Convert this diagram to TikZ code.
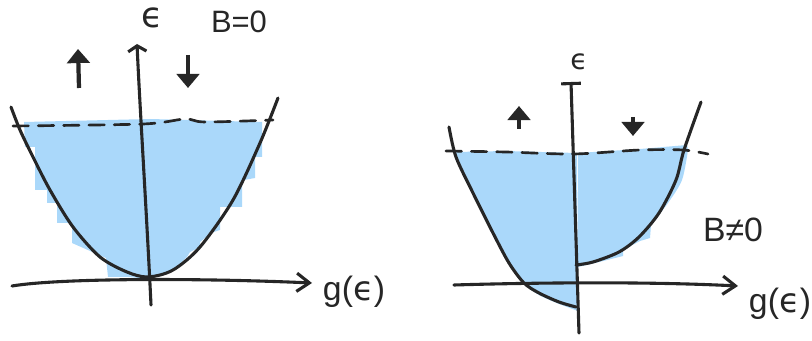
\documentclass[tikz,border=0pt]{standalone}
\usepackage{fontspec}
\setmainfont{Liberation Sans}
\newfontfamily\greekfont{DejaVu Sans}
\usetikzlibrary{arrows.meta}
\definecolor{seablue}{RGB}{170,216,250}
\definecolor{inkgray}{RGB}{38,38,38}
\newcommand{\eps}{{\greekfont ϵ}}

\begin{document}
\begin{tikzpicture}[x=0.025cm, y=-0.025cm,
  ink/.style={draw=inkgray, line width=2.2pt, line cap=round, line join=round},
  fermisea/.style={fill=seablue},
  fermilevel/.style={ink, line width=1.9pt, dash pattern=on 11pt off 7pt},
  axisarrow/.style={ink, -{Straight Barb[length=9pt, width=13pt]}},
  spinarrow/.style={draw=inkgray, line width=3pt, -{Triangle[length=10pt, width=16pt]}},
  lbl/.style={text=inkgray, font=\fontsize{22}{24}\selectfont, inner sep=1pt},
]
\useasboundingbox (0,0) rectangle (812,341);

% ---------- B = 0 ----------
% filled sea
\fill[fermisea] (24,122) -- (150,119) -- (262,122) -- (262,157) -- (255,157) -- (255,178)
  -- (244,180) -- (242,185) -- (242,207) -- (220,207) -- (220,230) -- (211,233)
  -- (200,242) -- (200,247) -- (190,252) -- (187,257) -- (172,271) -- (150,279)
  -- (128,277) -- (108,277) -- (106,258) -- (72,243) -- (72,223) -- (57,223)
  -- (57,203) -- (47,203) -- (47,190) -- (35,190) -- (35,147) -- (25,147) -- cycle;

% band
\draw[ink] plot[smooth] coordinates {(11,107) (20,130) (33,157) (50,190) (73,227)
  (100,257) (127,272) (148,277) (173,270) (200,247) (233,200) (260,143) (278,98)};
\draw[fermilevel] plot[smooth] coordinates {(13,126) (143,124) (185,119) (205,122) (273,120)};

% axes
\coordinate (yL0) at (151,305);
\coordinate (yL1) at (137,44);
\coordinate (xL0) at (12,286);
\coordinate (xL1) at (312,283);
\draw[ink, -{Straight Barb[length=4pt, width=13pt]}] (yL0) .. controls (147,220) and (140,110) .. (yL1);
\draw[axisarrow] (xL0) .. controls (60,278) and (200,278) .. (xL1);
\node[lbl, font=\fontsize{25}{27}\selectfont] (epsL) at (152,18) {\eps};
\node[lbl, font=\fontsize{24}{26}\selectfont] (gL) at (354,292) {g(\eps)};
\node[lbl] (BL) at (239,22) {B=0};

% spins
\coordinate (upL0) at (79,88);
\coordinate (upL1) at (78,49);
\coordinate (dnL0) at (188,55);
\coordinate (dnL1) at (188,88);
\draw[spinarrow] (upL0) -- (upL1);
\draw[spinarrow] (dnL0) -- (dnL1);

% ---------- B != 0 ----------
% filled sea
\fill[fermisea] (506,151) -- (577,153) -- (578,311)
  -- plot[smooth] coordinates {(559,304) (539,295) (524,284) (509,264) (493,234)
  (473,194) (457,157) (455,152)} -- cycle;
\fill[fermisea] (578,153) -- (640,149) -- (687,145)
  -- plot[smooth] coordinates {(688,150) (682,180) (668,203) (651,225)}
  -- (650,238) -- (640,241) -- (623,250) -- (623,256) -- (595,263) -- (578,267) -- cycle;

% bands
\draw[ink] plot[smooth] coordinates {(449,127) (456,157) (473,193) (493,233) (509,263)
  (524,283) (539,293) (559,302) (576,307)};
\draw[ink] plot[smooth] coordinates {(576,265) (593,262) (619,252) (639,237) (659,213)
  (676,180) (684,150) (701,102)};
\draw[fermilevel] plot[smooth] coordinates {(446,151) (506,152) (573,154) (640,150) (683,150) (708,154)};

% axes
\coordinate (yR0) at (579,333);
\coordinate (yR1) at (571,82);
\coordinate (xR0) at (454,285);
\coordinate (xR1) at (738,286);
\draw[ink, -{Bar[width=14pt]}] (yR0) -- (yR1);
\draw[axisarrow] (xR0) .. controls (520,283) and (640,281) .. (xR1);
\node[lbl, font=\fontsize{20}{22}\selectfont] (epsR) at (579,62) {\eps};
\node[lbl, font=\fontsize{24}{26}\selectfont] (gR) at (780,304) {g(\eps)};
\node[lbl, font=\fontsize{24}{26}\selectfont] (BR) at (733,230) {B≠0};

% spins
\coordinate (upR0) at (519,129);
\coordinate (upR1) at (519,106);
\coordinate (dnR0) at (633,117);
\coordinate (dnR1) at (633,136);
\draw[spinarrow, line width=2.6pt] (upR0) -- (upR1);
\draw[spinarrow, line width=2.6pt] (dnR0) -- (dnR1);

\end{tikzpicture}
\end{document}
